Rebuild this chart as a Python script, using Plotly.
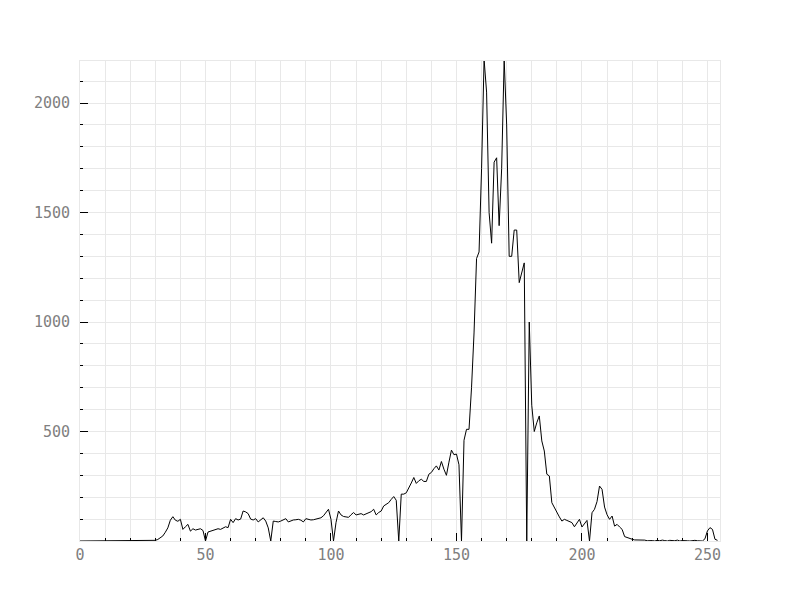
import plotly.graph_objects as go

bins = list(range(256))

counts = (
    [0] * 29 +
    [2, 3, 7, 14, 23, 40, 60, 95, 111, 95, 90, 99, 53, 65, 76, 45, 56, 50, 52, 56,
     48, 0, 41, 45, 50, 53, 56, 53, 58, 65, 61, 99, 84, 102, 96, 100, 137, 133, 125, 100,
     96, 102, 87, 95, 106, 91, 60, 0, 91, 89, 87, 91, 96, 102, 87, 92, 96, 97, 99, 95,
     87, 102, 98, 96, 97, 99, 104, 106, 115, 129, 145, 99, 0, 84, 137, 119, 112, 110, 108, 120,
     130, 119, 122, 125, 119, 125, 130, 134, 145, 119, 130, 137, 160, 168, 175, 190, 203, 186, 0, 214,
     214, 220, 240, 265, 290, 263, 275, 282, 272, 272, 305, 313, 330, 343, 324, 363, 328, 300, 360, 415,
     394, 397, 348, 0, 460, 510, 510, 700, 950, 1290, 1320, 1700, 2200, 2050, 1500, 1360, 1730, 1750, 1440, 1700,
     2200, 1900, 1300, 1300, 1420, 1420, 1180, 1230, 1270, 0, 1000, 620, 500, 540, 571, 457, 411, 305, 297, 175,
     152, 135, 110, 91, 99, 94, 90, 84, 65, 80, 99, 64, 80, 94, 0, 129, 145, 180, 251, 236,
     155, 120, 99, 114, 68, 76, 64, 53, 20, 15, 10, 8, 5, 5, 3, 2, 4, 1, 3, 2,
     0, 3, 1, 4, 2, 0, 3, 2, 1, 4, 0, 2, 3, 1, 0, 2, 3, 1, 2, 0,
     10, 46, 61, 53, 8, 3]
)

font_family = "DejaVu Sans Mono"
grid_col = "#e8e8e8"

fig = go.Figure()
fig.add_trace(go.Scatter(
    x=bins, y=counts, mode="lines",
    line=dict(color="#000000", width=1),
    hoverinfo="x+y", showlegend=False,
))

fig.update_layout(
    width=800, height=600,
    margin=dict(l=72, r=88, t=53, b=67),
    paper_bgcolor="white", plot_bgcolor="white",
    font=dict(family=font_family, size=15, color="#808080"),
)

fig.update_xaxes(
    range=[0, 255], tickmode="linear", tick0=0, dtick=50,
    ticks="inside", ticklen=8, tickcolor="#000000", tickwidth=1,
    showgrid=True, gridcolor=grid_col, gridwidth=1,
    minor=dict(dtick=10, tick0=0, ticks="inside", ticklen=3, tickcolor="#000000",
               showgrid=True, gridcolor=grid_col),
    showline=True, linecolor=grid_col, mirror=True,
    zeroline=False, ticklabelstandoff=0,
    tickfont=dict(family=font_family, size=15, color="#808080"),
)

fig.update_yaxes(
    range=[0, 2192], tickmode="array", tickvals=[500, 1000, 1500, 2000],
    ticktext=["500", "1000", "1500", "2000"],
    ticks="inside", ticklen=8, tickcolor="#000000", tickwidth=1,
    showgrid=True, gridcolor=grid_col, gridwidth=1,
    minor=dict(dtick=100, tick0=0, ticks="inside", ticklen=3, tickcolor="#000000",
               showgrid=True, gridcolor=grid_col),
    showline=True, linecolor=grid_col, mirror=True,
    zeroline=False, ticklabelstandoff=6,
    tickfont=dict(family=font_family, size=15, color="#808080"),
)

fig.write_html("out.html")
